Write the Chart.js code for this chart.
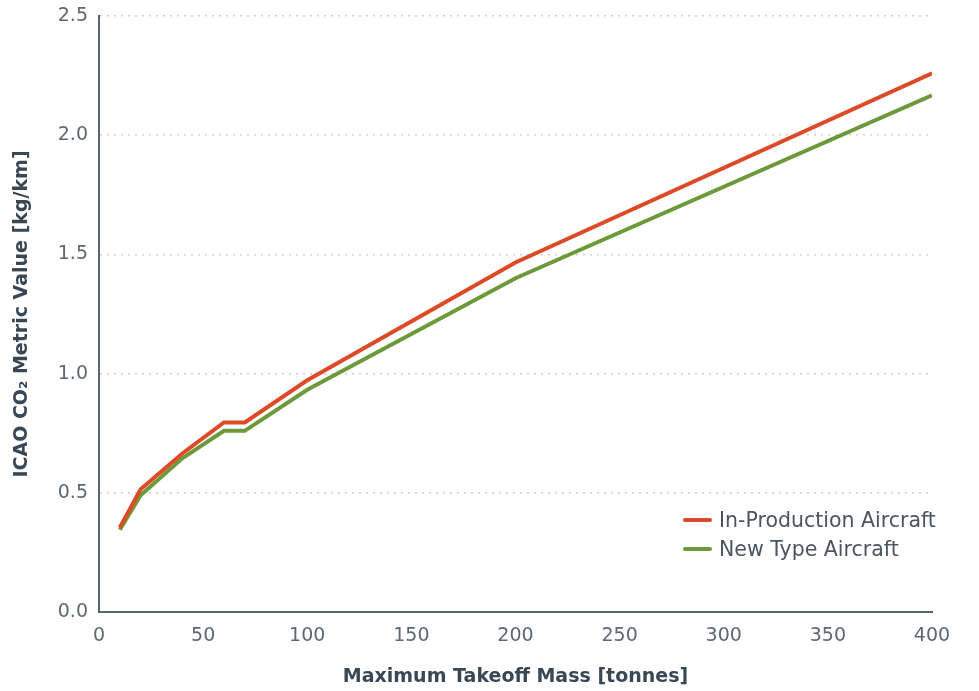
<!DOCTYPE html>
<html>
<head>
<meta charset="utf-8">
<script src="https://cdn.jsdelivr.net/npm/chart.js@4"></script>
<style>
  body { margin: 0; background: #fff; }
  #wrap { position: relative; width: 979px; height: 691px; }
  #legend { position: absolute; left: 683px; top: 505px; font-family: "DejaVu Sans", sans-serif; font-size: 20.5px; color: #4a5560; }
  #legend div { display: flex; align-items: center; height: 29px; }
  #legend span.sw { display: inline-block; width: 29px; height: 4px; border-radius: 2px; margin-right: 7px; }
</style>
</head>
<body>
<div id="wrap">
  <canvas id="chart" width="979" height="691"></canvas>
  <div id="legend"></div>
</div>
<script>
// Data: maximum takeoff mass (tonnes) vs metric value (kg/km)
const massTonnes = [10, 20, 40, 60, 70, 100, 200, 400];
const inProduction = [0.355, 0.515, 0.665, 0.795, 0.795, 0.972, 1.466, 2.26];
const newType = [0.345, 0.49, 0.645, 0.76, 0.76, 0.932, 1.40, 2.167];
const seriesNames = ["In-Production Aircraft", "New Type Aircraft"];
const seriesColors = ["#dc4a27", "#6c9a3a"];
const yTicks = ["0.0", "0.5", "1.0", "1.5", "2.0", "2.5"];

const fontFam = '"DejaVu Sans", sans-serif';
const tickColor = "#5d6872";
const titleColor = "#3a4755";

function toPoints(values) {
    return massTonnes.map((m, i) => ({ x: m, y: values[i] }));
}

const ctx = document.getElementById("chart").getContext("2d");
new Chart(ctx, {
    type: "line",
    data: {
        datasets: [inProduction, newType].map((vals, i) => ({
            label: seriesNames[i],
            data: toPoints(vals),
            borderColor: seriesColors[i],
            backgroundColor: seriesColors[i],
            borderWidth: 4,
            pointRadius: 0,
            tension: 0,
            fill: false,
        })),
    },
    options: {
        responsive: false,
        animation: false,
        layout: { padding: { left: 0, right: 47, top: 16, bottom: 0 } },
        plugins: { legend: { display: false }, tooltip: { enabled: false } },
        scales: {
            x: {
                type: "linear",
                min: 0,
                max: 400,
                ticks: { stepSize: 50, color: tickColor, padding: 13, font: { family: fontFam, size: 19 } },
                grid: { display: false, drawTicks: false },
                border: { display: true, color: "#5a6570", width: 2 },
                title: { display: true, text: "Maximum Takeoff Mass [tonnes]", color: titleColor, padding: { top: 10, bottom: 3 }, font: { family: fontFam, size: 19, weight: "bold" } },
                afterFit: (s) => { s.height = 79; s.paddingLeft = 0; s.paddingRight = 0; },
            },
            y: {
                min: 0,
                max: 2.5,
                ticks: {
                    stepSize: 0.5,
                    color: tickColor,
                    padding: 11,
                    font: { family: fontFam, size: 19 },
                    callback: (v, i) => yTicks[i],
                },
                grid: { color: "#cfcfcf", lineWidth: 1.5, drawTicks: false },
                border: { display: true, color: "#5a6570", width: 2, dash: [2, 5] },
                title: { display: true, text: "ICAO CO₂ Metric Value [kg/km]", color: titleColor, padding: { top: 11, bottom: 5 }, font: { family: fontFam, size: 19, weight: "bold" } },
                afterFit: (s) => { s.width = 99; s.paddingTop = 0; s.paddingBottom = 0; },
            },
        },
    },
});

// Legend inside the plot, bottom right
const legendBox = document.getElementById("legend");
seriesNames.forEach((name, i) => {
    const row = document.createElement("div");
    row.innerHTML = `<span class="sw" style="background:${seriesColors[i]}"></span>${name}`;
    legendBox.appendChild(row);
});
</script>
</body>
</html>
